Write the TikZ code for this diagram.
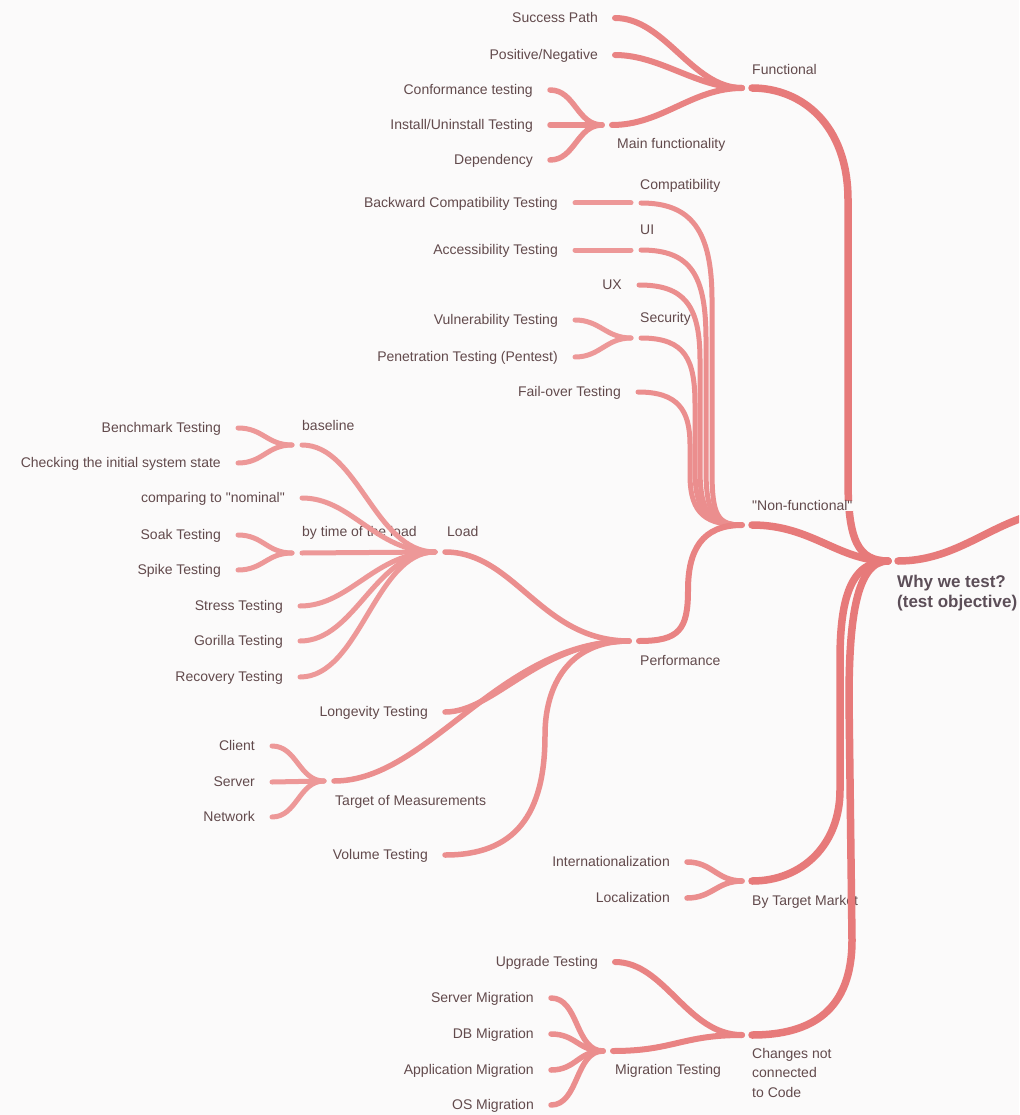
\documentclass[tikz,border=0pt]{standalone}
\usepackage{fontspec}
\setmainfont{Liberation Sans}[Ligatures=TeXOff]
\definecolor{bg}{RGB}{251,250,250}
\definecolor{c1}{RGB}{231,122,122}
\definecolor{c2}{RGB}{233,131,131}
\definecolor{c3}{RGB}{235,142,142}
\definecolor{c4}{RGB}{237,152,152}
\definecolor{txt}{RGB}{98,74,76}
\definecolor{roottxt}{RGB}{92,78,88}
\newcommand{\lblfont}{\fontsize{14}{19.5}\selectfont}
\newcommand{\rootfont}{\fontsize{17}{20}\selectfont\bfseries}
\tikzset{
  br/.style={line cap=round, line join=round},
  L1/.style={br, line width=7.5pt, draw=c1},
  L2/.style={br, line width=6pt, draw=c2},
  L2b/.style={br, line width=5pt, draw=c3},
  L3/.style={br, line width=5.5pt, draw=c3},
  L4/.style={br, line width=5pt, draw=c4},
  leaf/.style={anchor=east, inner sep=0pt, text height=9.5pt, text depth=0pt, font=\lblfont, text=txt},
  lbl/.style={anchor=west, inner sep=0pt, text height=9.5pt, text depth=0pt, font=\lblfont, text=txt},
  rootlbl/.style={anchor=north west, inner sep=0pt, align=left, font=\rootfont, text=roottxt},
  multilbl/.style={anchor=north west, inner sep=0pt, align=left, font=\lblfont, text=txt}
}
\begin{document}
\begin{tikzpicture}[x=1pt,y=-1pt]
\fill[bg] (0,0) rectangle (1019,1115);
\useasboundingbox (0,0) rectangle (1019,1115);
\clip (0,0) rectangle (1019,1115);

% ---- junction coordinates
\coordinate (root) at (893,561);
\coordinate (func) at (747,88);
\coordinate (nonf) at (747,525);
\coordinate (bytm) at (747,881);
\coordinate (chg) at (747,1035);
\coordinate (mainf) at (607,125);
\coordinate (compat) at (636,203);
\coordinate (ui) at (636,250);
\coordinate (sec) at (636,338);
\coordinate (perf) at (634,641);
\coordinate (load) at (440,552);
\coordinate (base) at (297,445);
\coordinate (bytime) at (297,553);
\coordinate (target) at (329,781);
\coordinate (migr) at (608,1051);
\coordinate (offR) at (1032,515);

% ---- labels of topics
\node[rootlbl] (root-l) at (897,575) {Why we test?\\(test objective)};
\node[lbl] (func-l) at (752,70) {Functional};
\node[lbl] (mainf-l) at (617,144) {Main functionality};
\node[lbl] (compat-l) at (640,185) {Compatibility};
\node[lbl] (ui-l) at (640,230) {UI};
\node[lbl] (sec-l) at (640,318) {Security};
\node[lbl] (perf-l) at (640,661) {Performance};
\node[lbl] (load-l) at (447,532) {Load};
\node[lbl] (base-l) at (302,426) {baseline};
\node[lbl] (bytime-l) at (302,532) {by time of the load};
\node[lbl] (target-l) at (335,801) {Target of Measurements};
\node[lbl] (bytm-l) at (752,901) {By Target Market};
\node[multilbl] (chg-l) at (752,1048) {Changes not\\connected\\to Code};
\node[lbl] (migr-l) at (615,1070) {Migration Testing};

% ---- leaves
\node[leaf] (succ) at (598,18) {Success Path};
\node[leaf] (posneg) at (598,55) {Positive/Negative};
\node[leaf] (conf) at (533,90) {Conformance testing};
\node[leaf] (inst) at (533,125) {Install/Uninstall Testing};
\node[leaf] (dep) at (533,160) {Dependency};
\node[leaf] (bwd) at (558,203) {Backward Compatibility Testing};
\node[leaf] (acc) at (558,250) {Accessibility Testing};
\node[leaf] (ux) at (622,285) {UX};
\node[leaf] (vuln) at (558,320) {Vulnerability Testing};
\node[leaf] (pent) at (558,357) {Penetration Testing (Pentest)};
\node[leaf] (fail) at (621,392) {Fail-over Testing};
\node[leaf] (bench) at (221,428) {Benchmark Testing};
\node[leaf] (check) at (221,463) {Checking the initial system state};
\node[leaf] (nominal) at (285,498) {comparing to "nominal"};
\node[leaf] (soak) at (221,535) {Soak Testing};
\node[leaf] (spike) at (221,570) {Spike Testing};
\node[leaf] (stress) at (283,606) {Stress Testing};
\node[leaf] (gorilla) at (283,641) {Gorilla Testing};
\node[leaf] (recov) at (283,677) {Recovery Testing};
\node[leaf] (longev) at (428,712) {Longevity Testing};
\node[leaf] (client) at (255,746) {Client};
\node[leaf] (server) at (255,782) {Server};
\node[leaf] (network) at (255,817) {Network};
\node[leaf] (volume) at (428,855) {Volume Testing};
\node[leaf] (intl) at (670,862) {Internationalization};
\node[leaf] (loc) at (670,898) {Localization};
\node[leaf] (upg) at (598,962) {Upgrade Testing};
\node[leaf] (srvm) at (534,998) {Server Migration};
\node[leaf] (dbm) at (534,1034) {DB Migration};
\node[leaf] (appm) at (534,1070) {Application Migration};
\node[leaf] (osm) at (534,1105) {OS Migration};

% ---- level 1 branches
\draw[L1] ([xshift=5pt]root) .. controls +(55,0) and +(-45,12) .. (offR);
\draw[L1] ([xshift=-5pt]root) .. controls +(-30,0) and +(0,60) .. (848,480) -- (848,200) .. controls +(0,-75) and +(50,0) .. ([xshift=5pt]func);
\draw[L1] ([xshift=-5pt]root) .. controls +(-50,0) and +(60,0) .. ([xshift=5pt]nonf);
\draw[L1] ([xshift=-5pt]root) .. controls +(-38,0) and +(0,-60) .. (840,660) -- (840,790) .. controls +(0,55) and +(50,0) .. ([xshift=5pt]bytm);
\draw[L1] ([xshift=-5pt]root) .. controls +(-32,0) and +(0,-80) .. (849,700) -- (852,940) .. controls +(0,70) and +(60,0) .. ([xshift=5pt]chg);

% ---- Functional
\draw[L2] ([xshift=-5pt]func) .. controls +(-50,0) and +(50,0) .. ([xshift=17pt]succ.east);
\draw[L2] ([xshift=-5pt]func) .. controls +(-45,0) and +(45,0) .. ([xshift=17pt]posneg.east);
\draw[L2] ([xshift=-5pt]func) .. controls +(-50,0) and +(50,0) .. ([xshift=5pt]mainf);
\draw[L3] ([xshift=-5pt]mainf) .. controls +(-25,0) and +(25,0) .. ([xshift=17pt]conf.east);
\draw[L3] ([xshift=-5pt]mainf) -- ([xshift=17pt]inst.east);
\draw[L3] ([xshift=-5pt]mainf) .. controls +(-25,0) and +(25,0) .. ([xshift=17pt]dep.east);

% ---- Non-functional
\draw[L2b] ([xshift=-5pt]nonf) .. controls +(-25,0) and +(0,45) .. (712,470) -- (712,300) .. controls +(0,-70) and +(50,0) .. ([xshift=5pt]compat);
\draw[L2b] ([xshift=-5pt]nonf) .. controls +(-27,0) and +(0,45) .. (706,470) -- (706,340) .. controls +(0,-65) and +(50,0) .. ([xshift=5pt]ui);
\draw[L2b] ([xshift=-5pt]nonf) .. controls +(-30,0) and +(0,45) .. (700,470) -- (700,360) .. controls +(0,-55) and +(45,0) .. ([xshift=17pt]ux.east);
\draw[L2b] ([xshift=-5pt]nonf) .. controls +(-32,0) and +(0,45) .. (695,470) -- (695,405) .. controls +(0,-45) and +(45,0) .. ([xshift=5pt]sec);
\draw[L2b] ([xshift=-5pt]nonf) .. controls +(-35,0) and +(0,40) .. (690,475) -- (690,445) .. controls +(0,-35) and +(40,0) .. ([xshift=17pt]fail.east);
\draw[L2] ([xshift=-5pt]nonf) .. controls +(-40,0) and +(0,-40) .. (688,590) .. controls +(0,40) and +(40,0) .. ([xshift=5pt]perf);
\draw[L4] ([xshift=-5pt]compat) -- ([xshift=17pt]bwd.east);
\draw[L4] ([xshift=-5pt]ui) -- ([xshift=17pt]acc.east);
\draw[L4] ([xshift=-5pt]sec) .. controls +(-25,0) and +(25,0) .. ([xshift=17pt]vuln.east);
\draw[L4] ([xshift=-5pt]sec) .. controls +(-25,0) and +(25,0) .. ([xshift=17pt]pent.east);

% ---- Performance
\draw[L3] ([xshift=-5pt]perf) .. controls +(-88,0) and +(70,0) .. ([xshift=5pt]load);
\draw[L3] ([xshift=-5pt]perf) .. controls +(-90,0) and +(50,0) .. ([xshift=17pt]longev.east);
\draw[L3] ([xshift=-5pt]perf) .. controls +(-130,0) and +(95,0) .. ([xshift=5pt]target);
\draw[L3] ([xshift=-5pt]perf) .. controls +(-60,0) and +(0,-50) .. (545,735) .. controls +(0,80) and +(70,0) .. ([xshift=17pt]volume.east);

\draw[L4] ([xshift=-5pt]load) .. controls +(-60,0) and +(56,0) .. ([xshift=5pt]base);
\draw[L4] ([xshift=-5pt]load) .. controls +(-60,0) and +(50,0) .. ([xshift=17pt]nominal.east);
\draw[L4] ([xshift=-5pt]load) -- ([xshift=5pt]bytime);
\draw[L4] ([xshift=-5pt]load) .. controls +(-60,0) and +(50,0) .. ([xshift=17pt]stress.east);
\draw[L4] ([xshift=-5pt]load) .. controls +(-60,0) and +(55,0) .. ([xshift=17pt]gorilla.east);
\draw[L4] ([xshift=-5pt]load) .. controls +(-60,0) and +(60,0) .. ([xshift=17pt]recov.east);

\draw[L4] ([xshift=-5pt]base) .. controls +(-25,0) and +(25,0) .. ([xshift=17pt]bench.east);
\draw[L4] ([xshift=-5pt]base) .. controls +(-25,0) and +(25,0) .. ([xshift=17pt]check.east);
\draw[L4] ([xshift=-5pt]bytime) .. controls +(-25,0) and +(25,0) .. ([xshift=17pt]soak.east);
\draw[L4] ([xshift=-5pt]bytime) .. controls +(-25,0) and +(25,0) .. ([xshift=17pt]spike.east);

\draw[L4] ([xshift=-5pt]target) .. controls +(-25,0) and +(25,0) .. ([xshift=17pt]client.east);
\draw[L4] ([xshift=-5pt]target) -- ([xshift=17pt]server.east);
\draw[L4] ([xshift=-5pt]target) .. controls +(-25,0) and +(25,0) .. ([xshift=17pt]network.east);

% ---- By Target Market
\draw[L3] ([xshift=-5pt]bytm) .. controls +(-25,0) and +(25,0) .. ([xshift=17pt]intl.east);
\draw[L3] ([xshift=-5pt]bytm) .. controls +(-25,0) and +(25,0) .. ([xshift=17pt]loc.east);

% ---- Changes not connected to Code
\draw[L2] ([xshift=-5pt]chg) .. controls +(-55,0) and +(50,0) .. ([xshift=17pt]upg.east);
\draw[L2] ([xshift=-5pt]chg) .. controls +(-60,0) and +(60,0) .. ([xshift=5pt]migr);
\draw[L3] ([xshift=-5pt]migr) .. controls +(-28,0) and +(28,0) .. ([xshift=17pt]srvm.east);
\draw[L3] ([xshift=-5pt]migr) .. controls +(-25,0) and +(25,0) .. ([xshift=17pt]dbm.east);
\draw[L3] ([xshift=-5pt]migr) .. controls +(-25,0) and +(25,0) .. ([xshift=17pt]appm.east);
\draw[L3] ([xshift=-5pt]migr) .. controls +(-28,0) and +(28,0) .. ([xshift=17pt]osm.east);

% label drawn over the Functional branch, as in the reference
\node[lbl, fill=bg, inner xsep=1pt] (nonf-l) at (751,506) {"Non-functional"};
\end{tikzpicture}
\end{document}
